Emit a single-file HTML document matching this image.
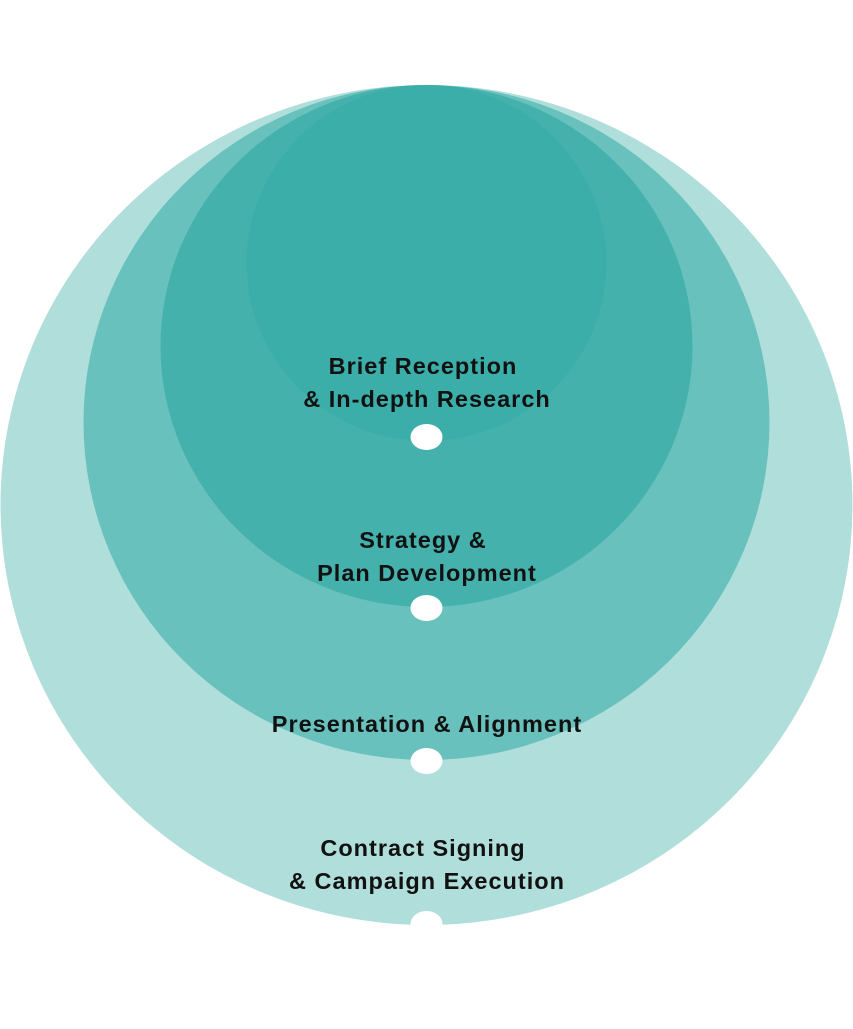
<!DOCTYPE html>
<html><head><style>
body{margin:0;width:853px;height:1024px;background:#fff;overflow:hidden}
text{font-family:"Liberation Sans",sans-serif;font-weight:bold;font-size:23.5px;letter-spacing:1px;fill:#111;text-anchor:middle}
</style></head><body>
<svg width="853" height="1024" viewBox="0 0 853 1024">
<ellipse cx="426.5" cy="505" rx="426" ry="420" fill="#b0dedb"/>
<ellipse cx="426.5" cy="422.5" rx="343" ry="337.5" fill="#68c1bc"/>
<ellipse cx="426.5" cy="346" rx="266" ry="261" fill="#45b1ac"/>
<ellipse cx="426.5" cy="263" rx="180" ry="178" fill="#3caea9"/>
<ellipse cx="426.5" cy="437" rx="16" ry="13" fill="#fff"/>
<ellipse cx="426.5" cy="608" rx="16" ry="13" fill="#fff"/>
<ellipse cx="426.5" cy="761" rx="16" ry="13" fill="#fff"/>
<ellipse cx="426.5" cy="924" rx="16" ry="13" fill="#fff"/>
<text x="423" y="374">Brief Reception</text>
<text x="427" y="407">&amp; In-depth Research</text>
<text x="423" y="548">Strategy &amp;</text>
<text x="427" y="581">Plan Development</text>
<text x="427" y="732">Presentation &amp; Alignment</text>
<text x="423" y="856">Contract Signing</text>
<text x="427" y="889">&amp; Campaign Execution</text>
</svg>
</body></html>
